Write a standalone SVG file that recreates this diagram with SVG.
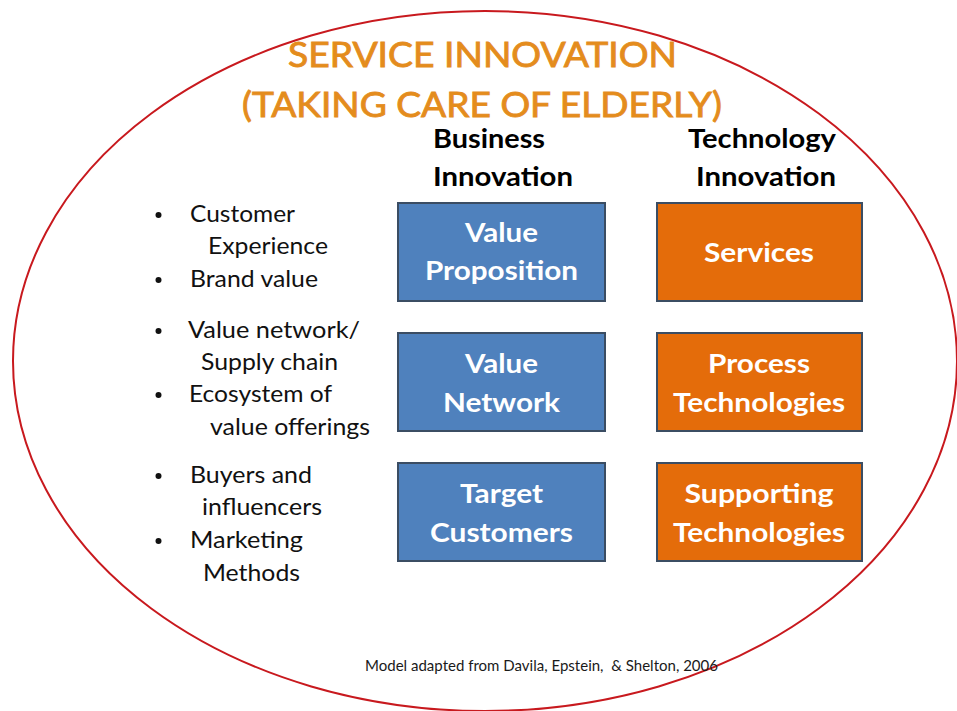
<svg xmlns="http://www.w3.org/2000/svg" width="957" height="711" viewBox="0 0 957 711">
  <style>
    .bg { fill: #ffffff; }
    .oval { fill: none; stroke: #C8191E; stroke-width: 2; }
    .title { font-family: Lato, "Open Sans", "Liberation Sans", sans-serif; font-size: 35px; fill: #E48C1D; stroke: #E48C1D; stroke-width: 0.9; }
    .head { font-family: Lato, "Open Sans", "Liberation Sans", sans-serif; font-size: 27px; font-weight: bold; fill: #000000; }
    .boxB { fill: #4F81BD; stroke: #3B4D63; stroke-width: 2; }
    .boxO { fill: #E46C0A; stroke: #3B4D63; stroke-width: 2; }
    .btxt { font-family: Lato, "Open Sans", "Liberation Sans", sans-serif; font-size: 27px; font-weight: bold; fill: #ffffff; text-anchor: middle; }
    .bul { font-family: Lato, "Open Sans", "Liberation Sans", sans-serif; font-size: 23px; fill: #111111; }
    .dot { fill: #111111; }
    .foot { font-family: Lato, "Open Sans", "Liberation Sans", sans-serif; font-size: 15px; fill: #1a1a1a; }
  </style>
  <rect class="bg" x="0" y="0" width="957" height="711"/>
  <ellipse class="oval" cx="485" cy="361" rx="472" ry="350"/>

  <g id="title">
    <text class="title" x="288" y="67" textLength="389" lengthAdjust="spacingAndGlyphs">SERVICE INNOVATION</text>
    <text class="title" x="242" y="117" textLength="480" lengthAdjust="spacingAndGlyphs">(TAKING CARE OF ELDERLY)</text>
  </g>

  <g id="header-business">
    <text class="head" x="433" y="148" textLength="112" lengthAdjust="spacingAndGlyphs">Business</text>
    <text class="head" x="433" y="186" textLength="140" lengthAdjust="spacingAndGlyphs">Innovation</text>
  </g>
  <g id="header-technology">
    <text class="head" x="688" y="148" textLength="148" lengthAdjust="spacingAndGlyphs">Technology</text>
    <text class="head" x="696" y="186" textLength="140" lengthAdjust="spacingAndGlyphs">Innovation</text>
  </g>

  <g id="bullets">
    <circle class="dot" cx="158.5" cy="215" r="3"/>
    <text class="bul" x="190" y="222" textLength="105" lengthAdjust="spacingAndGlyphs">Customer</text>
    <text class="bul" x="208" y="254" textLength="120" lengthAdjust="spacingAndGlyphs">Experience</text>
    <circle class="dot" cx="158.5" cy="280" r="3"/>
    <text class="bul" x="190" y="287" textLength="128" lengthAdjust="spacingAndGlyphs">Brand value</text>
    <circle class="dot" cx="158.5" cy="331" r="3"/>
    <text class="bul" x="188" y="338" textLength="172" lengthAdjust="spacingAndGlyphs">Value network/</text>
    <text class="bul" x="201" y="370" textLength="137" lengthAdjust="spacingAndGlyphs">Supply chain</text>
    <circle class="dot" cx="158.5" cy="395" r="3"/>
    <text class="bul" x="189" y="402" textLength="143" lengthAdjust="spacingAndGlyphs">Ecosystem of</text>
    <text class="bul" x="210" y="435" textLength="160" lengthAdjust="spacingAndGlyphs">value offerings</text>
    <circle class="dot" cx="158.5" cy="476" r="3"/>
    <text class="bul" x="190" y="483" textLength="122" lengthAdjust="spacingAndGlyphs">Buyers and</text>
    <text class="bul" x="202" y="515" textLength="120" lengthAdjust="spacingAndGlyphs">influencers</text>
    <circle class="dot" cx="158.5" cy="541" r="3"/>
    <text class="bul" x="190" y="548" textLength="113" lengthAdjust="spacingAndGlyphs">Marketing</text>
    <text class="bul" x="203" y="581" textLength="97" lengthAdjust="spacingAndGlyphs">Methods</text>
  </g>

  <g id="value-proposition">
    <rect class="boxB" x="398" y="203" width="207" height="98"/>
    <text class="btxt" x="501.5" y="242" textLength="73" lengthAdjust="spacingAndGlyphs">Value</text>
    <text class="btxt" x="501.5" y="280" textLength="153" lengthAdjust="spacingAndGlyphs">Proposition</text>
  </g>
  <g id="value-network">
    <rect class="boxB" x="398" y="333" width="207" height="98"/>
    <text class="btxt" x="501.5" y="373" textLength="73" lengthAdjust="spacingAndGlyphs">Value</text>
    <text class="btxt" x="501.5" y="412" textLength="117" lengthAdjust="spacingAndGlyphs">Network</text>
  </g>
  <g id="target-customers">
    <rect class="boxB" x="398" y="463" width="207" height="98"/>
    <text class="btxt" x="501.5" y="503" textLength="83" lengthAdjust="spacingAndGlyphs">Target</text>
    <text class="btxt" x="501.5" y="542" textLength="143" lengthAdjust="spacingAndGlyphs">Customers</text>
  </g>
  <g id="services">
    <rect class="boxO" x="657" y="203" width="205" height="98"/>
    <text class="btxt" x="759" y="262" textLength="110" lengthAdjust="spacingAndGlyphs">Services</text>
  </g>
  <g id="process-technologies">
    <rect class="boxO" x="657" y="333" width="205" height="98"/>
    <text class="btxt" x="759" y="373" textLength="102" lengthAdjust="spacingAndGlyphs">Process</text>
    <text class="btxt" x="759" y="412" textLength="172" lengthAdjust="spacingAndGlyphs">Technologies</text>
  </g>
  <g id="supporting-technologies">
    <rect class="boxO" x="657" y="463" width="205" height="98"/>
    <text class="btxt" x="759" y="503" textLength="149" lengthAdjust="spacingAndGlyphs">Supporting</text>
    <text class="btxt" x="759" y="542" textLength="172" lengthAdjust="spacingAndGlyphs">Technologies</text>
  </g>

  <g id="connectors"></g>

  <g id="footnote">
    <text class="foot" x="365" y="671" textLength="353" lengthAdjust="spacingAndGlyphs" xml:space="preserve">Model adapted from Davila, Epstein,  &amp; Shelton, 2006</text>
  </g>
</svg>
